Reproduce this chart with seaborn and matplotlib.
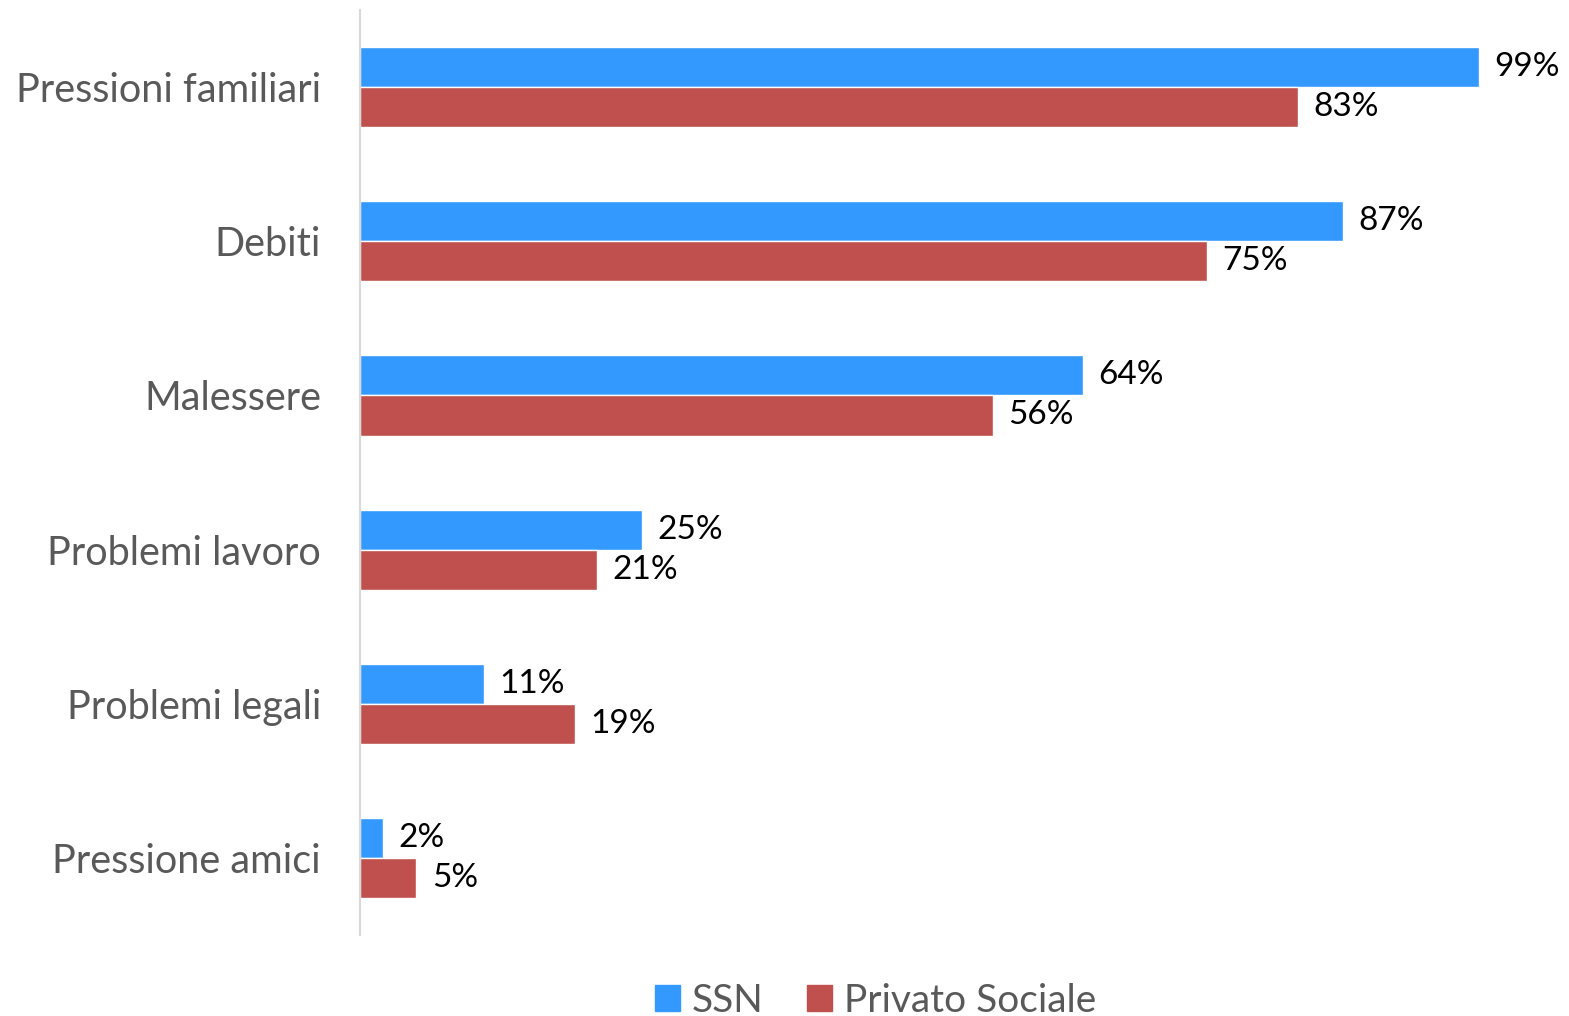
import matplotlib.pyplot as plt
import seaborn as sns
import pandas as pd
from matplotlib.patches import Patch

# dati
categorie = ['Pressioni familiari', 'Debiti', 'Malessere', 'Problemi lavoro',
             'Problemi legali', 'Pressione amici']
ssn = [99, 87, 64, 25, 11, 2]
privato = [83, 75, 56, 21, 19, 5]
serie = ['SSN', 'Privato Sociale']
colori = ['#3399FF', '#C0504D']

df = pd.DataFrame({
    'categoria': categorie * 2,
    'valore': ssn + privato,
    'serie': [serie[0]] * len(categorie) + [serie[1]] * len(categorie),
})

sns.set_theme(style='white')
plt.rcParams['font.family'] = ['Lato', 'DejaVu Sans']

fig = plt.figure(figsize=(15.69, 10.16), dpi=100)
ax = fig.add_axes([360 / 1569, 81 / 1016, 1 - 360 / 1569, 925 / 1016])

sns.barplot(data=df, y='categoria', x='valore', hue='serie', hue_order=serie,
            order=categorie, palette=colori, orient='h', width=0.52,
            saturation=1, ax=ax, legend=False)

for c in ax.containers:
    labs = ax.bar_label(c, labels=[f'{v:.0f}%' for v in c.datavalues], padding=11,
                        fontsize=24, color='black')
    for t in labs:
        t.set_y(t.get_position()[1] + 0.02)

ax.set_xlim(0, 107)
ax.set_ylim(5.5, -0.5)
ax.set_xlabel('')
ax.set_ylabel('')
ax.set_xticks([])
ax.tick_params(axis='y', length=0, pad=28, labelsize=28.5, labelcolor='#595959')
for s in ['top', 'right', 'bottom']:
    ax.spines[s].set_visible(False)
ax.spines['left'].set_color('#D9D9D9')
ax.spines['left'].set_linewidth(1.5)

handles = [Patch(color=colori[0], label=serie[0]), Patch(color=colori[1], label=serie[1])]
leg = fig.legend(handles=handles, loc='center', bbox_to_anchor=(0.558, 0.015), ncol=2,
                 frameon=False, fontsize=28, handlelength=0.65, handleheight=0.65,
                 handletextpad=0.3, columnspacing=1.1)
for t in leg.get_texts():
    t.set_color('#595959')

fig.savefig('out.png', dpi=100)
